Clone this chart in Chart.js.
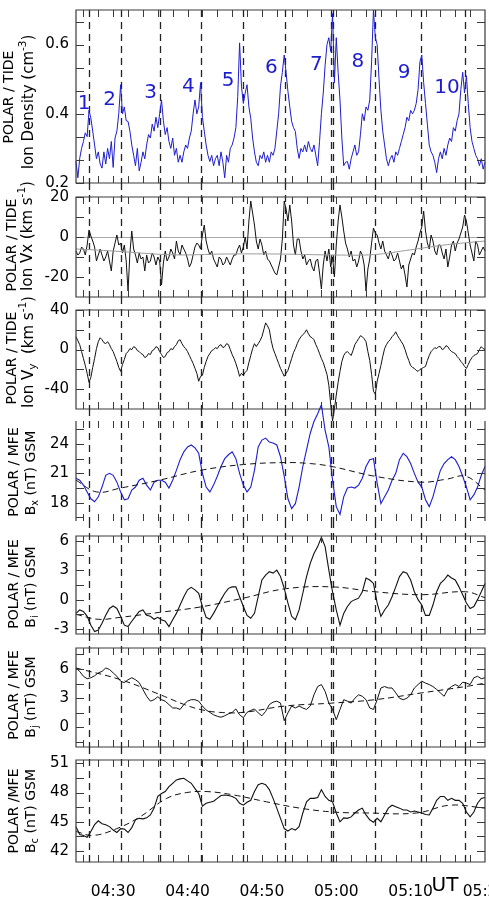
<!DOCTYPE html>
<html>
<head>
<meta charset="utf-8">
<script src="https://cdn.jsdelivr.net/npm/chart.js@4.4.0/dist/chart.umd.min.js"></script>
<style>
  html, body { margin: 0; padding: 0; background: #fff; }
  #wrap { position: relative; width: 489px; height: 902px; overflow: hidden; background: #fff; }
  #wrap canvas { position: absolute; left: 0; }
</style>
</head>
<body>
<div id="wrap"></div>
<script>
const FONT = "'DejaVu Sans', Verdana, sans-serif";
const BLUE = "#1d1dcf";
const INK = "#111";

// time axis: minutes after 04:00 UT
const T_START = 25;
const STEP_FINE = 0.25;
const STEP = 0.5;

const xTickVals = [30, 40, 50, 60, 70, 80];
const xTickLabels = ["04:30", "04:40", "04:50", "05:00", "05:10", "05:20"];
const xMinorTicks = [26, 28, 30, 32, 34, 36, 38, 40, 42, 44, 46, 48, 50, 52, 54, 56, 58, 60, 62, 64, 66, 68, 70, 72, 74, 76, 78];
const eventTimes = [26.75, 31.0, 36.25, 41.77, 47.46, 53.06, 59.3, 59.55, 65.17, 71.44, 77.27];

const eventLabels = ["1", "2", "3", "4", "5", "6", "7", "8", "9", "10"];
const eventLabelT = [26.08, 29.53, 35.05, 40.1, 45.44, 51.27, 57.32, 62.92, 69.11, 74.89];
const eventLabelV = [0.428, 0.441, 0.46, 0.479, 0.494, 0.534, 0.542, 0.55, 0.518, 0.474];

// ion density, every 15 s
const density = [
  0.262, 0.215, 0.271, 0.30,  0.32, 0.345, 0.334, 0.41,  0.387, 0.35, 0.31, 0.27,  0.29, 0.255, 0.243, 0.29,  0.255, 0.30, 0.27, 0.32,
  0.245, 0.33, 0.35, 0.40,  0.484, 0.40, 0.42, 0.38,  0.378, 0.35, 0.31, 0.28,  0.25, 0.30, 0.235, 0.26,  0.29, 0.27, 0.31, 0.34,
  0.33, 0.37, 0.35, 0.39,  0.36, 0.40, 0.44, 0.38,  0.34, 0.36, 0.32, 0.30,  0.33, 0.28, 0.30, 0.26,  0.28, 0.26, 0.29, 0.31,
  0.30, 0.33, 0.35, 0.40,  0.44, 0.40, 0.42, 0.49,  0.39, 0.35, 0.31, 0.28,  0.262, 0.28, 0.25, 0.27,  0.28, 0.25, 0.29, 0.26,
  0.215, 0.28, 0.26, 0.30,  0.31, 0.33, 0.36, 0.45,  0.605, 0.48, 0.43, 0.46,  0.484, 0.42, 0.387, 0.33,  0.29, 0.26, 0.25, 0.28,
  0.27, 0.29, 0.26, 0.28,  0.26, 0.29, 0.28, 0.30,  0.35, 0.40, 0.48, 0.52,  0.57, 0.52, 0.465, 0.42,  0.378, 0.36, 0.349, 0.30,
  0.271, 0.30, 0.29, 0.31,  0.29, 0.32, 0.30, 0.29,  0.31, 0.28, 0.25, 0.32,  0.40, 0.46, 0.54, 0.60,  0.62, 0.58, 0.69, 0.49,
  0.62, 0.52, 0.44, 0.33,  0.25, 0.26, 0.262, 0.24,  0.27, 0.29, 0.31, 0.28,  0.29, 0.34, 0.40, 0.38,  0.42, 0.41, 0.44, 0.55,
  0.70, 0.62, 0.60, 0.50,  0.41, 0.35, 0.31, 0.27,  0.25, 0.27, 0.28, 0.26,  0.29, 0.28, 0.30, 0.32,  0.34, 0.36, 0.39, 0.38,
  0.41, 0.40, 0.41, 0.43,  0.47, 0.55, 0.57, 0.49,  0.43, 0.37, 0.31, 0.29,  0.28, 0.26, 0.23, 0.27,  0.29, 0.27, 0.30, 0.28,
  0.31, 0.33, 0.32, 0.36,  0.35, 0.38, 0.40, 0.47,  0.52, 0.46, 0.51, 0.43,  0.36, 0.32, 0.30, 0.28,  0.27, 0.25, 0.27, 0.24,
  0.26
];

// ion Vx, every 15 s
const vx = [
  -7, -9, -8, -5,  -6, -9, -4, 3.5,  0.5, -2, -5, -12,  -9, -6, -9, -12,  -10, -7, -12, -17,
  -7, -3, 1, -4,  -3, -8, -4, -12,  -27, -8, 3, -6,  -9, -13, -8, -11,  -10, -17, -9, -13,
  -12, -8, -10, -14,  -10, -12, -24, -13,  -7, -12, -10, -6,  -8, -11, -2, -7,  -9, -4, -6, -8,
  -11, -15, -13, -9,  -5, -3, -4, -6,  1, 6, -2, -6,  -9, -7, -11, -13,  -15, -10, -11, -14,
  -13, -10, -12, -14,  -11, -9, -9, -6,  -4, -8, -5, 0,  -6, 8, 18, 12,  6, -2, -6, -1,
  -4, -9, -7, -11,  -12, -14, -16, -18,  -19, -15, -11, -1,  18, 14, 8, 16,  8, -4, -9, -1,
  -1, -7, -11, -9,  -14, -12, -11, -15,  -17, -12, -11, -18,  -26, -14, -7, -12,  -6, -15, -10, -20,
  -4, 8, 16, 10,  3, -3, -6, -10,  -7, -12, -11, -15,  -12, -7, -9, -14,  -27, -16, -11, -3,
  4.5, 2, 1, -3,  -6, -2, -7, -9,  -11, -7, -9, -12,  -11, -8, -12, -16,  -14, -19, -25, -14,
  -11, -8, -9, -5,  -2, 2, 5, 13,  3, -3, -6, 1,  -2, -7, -9, -4,  -4, -8, -11, -6,
  -15, -10, -4, -2,  -7, -3, -1, 2,  5, 11, 8, 2,  -4, -8, -12, -2,  -4, -9, -7, -5,
  -7
];
const vxTrendT = [25, 30, 38, 45, 52, 60, 65, 70, 75, 80];
const vxTrendV = [-6, -7, -8.9, -8.5, -8.5, -9, -8.8, -6.4, -3.8, -2];

// ion Vy, every 15 s
const vy = [
  13, 9, 5, -2,  -9, -16, -24, -33,  -28, -18, -9, 1,  8, 12, 10, 7,  6, 8, 5, 1,
  -2, -7, -12, -18,  -22, -15, -10, -4,  -2, 1, 0, 3,  2, -1, -2, -4,  -5, -8, -7, -4,
  -5, -1, 0, 3,  2, -2, -5, -8,  -7, -3, -2, 1,  0, 3, 5, 9,  10, 6, 3, 1,
  -2, -6, -10, -14,  -19, -24, -32, -27,  -26, -18, -12, -7,  -4, -1, 0, 2,  1, 4, 5, 2,
  3, 6, 5, 0,  -5, -9, -14, -20,  -27, -24, -26, -23,  -21, -13, -6, 1,  6, 3, 6, 9,
  13, 20, 27, 24,  20, 9, 1, -4,  -9, -14, -19, -23,  -27, -24, -21, -15,  -9, -3, 1, 6,
  10, 13, 15, 17,  20, 16, 13, 12,  10, 5, 1, -4,  -9, -13, -19, -25,  -36, -55, -72, -60,
  -46, -33, -22, -12,  -6, -3, -2, -4,  -6, -1, 5, 8,  11, 14, 13, 11,  8, -2, -11, -25,
  -42, -45, -32, -24,  -16, -7, 1, 5,  8, 10, 13, 15,  18, 14, 11, 8,  5, 0, -6, -11,
  -16, -18, -19, -21,  -22, -20, -19, -18,  -17, -11, -6, -2,  0, 2, 1, 3,  3, 0, 1, 4,
  3, 0, -2, -3,  -4, -7, -9, -12,  -14, -17, -19, -15,  -11, -8, -6, -5,  -4, 0, 3, 1,
  0
];

// MFE field components (nT), every 30 s
const bx = [
  20.5, 20.3, 19.8, 19.1, 18.4, 18.1, 18.6, 19.6, 20.8, 21.0,
  20.8, 20.1, 19.1, 18.3, 18.4, 19.3, 19.6, 20.3, 20.5, 19.8,
  19.3, 20.1, 20.3, 20.3, 20.1, 19.5, 20.3, 21.3, 22.4, 23.2,
  23.7, 23.9, 23.6, 23.05, 21.0, 19.6, 19.1, 19.8, 20.7, 21.7,
  22.5, 22.9, 23.2, 22.5, 21.0, 19.8, 19.1, 19.6, 21.3, 23.7,
  24.4, 24.6, 24.2, 24.1, 23.9, 22.7, 20.7, 18.4, 17.4, 17.9,
  19.6, 21.7, 23.4, 25.1, 26.3, 27.1, 28.0, 25.4, 23.7, 20.3,
  17.6, 16.8, 18.6, 19.5, 19.6, 19.5, 19.8, 20.5, 21.7, 22.4,
  22.5, 20.0, 17.9, 18.6, 19.3, 20.3, 21.0, 22.4, 23.05, 22.7,
  22.0, 21.0, 20.1, 19.6, 18.3, 17.6, 18.6, 20.0, 21.3, 22.0,
  22.4, 22.7, 22.4, 21.7, 20.7, 19.6, 18.3, 18.8, 19.6, 20.8,
  21.7
];
const bxTrendT = [25, 27.8, 31, 36.2, 41.7, 47.5, 53.1, 56.5, 59.4, 65.2, 71.5, 74.8, 77.4, 80];
const bxTrendV = [20.3, 19.1, 19.5, 20.3, 21.3, 21.9, 22.1, 22.0, 21.7, 20.7, 20.1, 20.4, 20.7, 19.3];

const bi = [
  -1.4, -1.05, -1.2, -1.7, -2.6, -3.25, -3.1, -2.4, -1.6, -0.9,
  -0.65, -0.9, -1.7, -2.6, -2.75, -2.2, -1.7, -1.2, -1.05, -1.6,
  -1.7, -2.0, -1.8, -2.05, -2.2, -2.75, -2.05, -1.4, -0.55, 0.3,
  1.0, 1.25, 1.0, 0.65, -0.7, -1.8, -2.0, -1.4, -0.7, 0,
  0.65, 1.15, 1.3, 1.3, 0.3, -0.7, -1.6, -1.9, -1.4, 0.3,
  2.0, 2.5, 2.85, 2.7, 3.0, 2.35, 1.15, -0.35, -1.7, -2.05,
  -1.05, 0.65, 2.35, 3.7, 4.7, 5.4, 6.35, 5.4, 3.0, 0.8,
  -1.05, -2.6, -1.4, -0.7, -0.2, 0, 0.15, 0.8, 2.2, 2.0,
  1.65, -0.35, -1.7, -1.05, -0.55, 0.3, 1.3, 2.35, 2.85, 2.7,
  2.0, 0.8, 0, -0.55, -1.6, -1.6, -0.55, 0.8, 1.65, 2.0,
  2.5, 2.2, 2.0, 1.3, 0.5, -0.35, -0.9, -0.7, 0, 0.8,
  1.65
];
const biTrendT = [25, 28, 31, 36.2, 41.7, 47.5, 53.1, 59.4, 65.2, 71.5, 77.4, 80];
const biTrendV = [-1.5, -2.0, -1.8, -1.3, -0.75, 0.15, 1.1, 1.3, 0.8, 0.5, 0.8, 0.2];

const bj = [
  6.1, 5.75, 5.25, 5.0, 5.1, 5.3, 5.6, 5.75, 6.1, 5.95,
  5.6, 5.25, 4.75, 4.6, 4.9, 5.1, 4.9, 4.6, 3.9, 3.2,
  2.7, 2.85, 3.15, 2.85, 2.7, 2.35, 2.0, 2.0, 1.85, 2.35,
  2.7, 2.85, 2.85, 2.7, 2.2, 1.8, 1.55, 1.3, 1.15, 1.05,
  1.2, 1.4, 1.55, 1.9, 1.3, 1.0, 1.55, 1.75, 1.9, 1.5,
  1.2, 1.65, 2.35, 2.6, 2.7, 2.5, 0.7, 1.5, 2.2, 2.0,
  2.2, 2.0, 1.85, 2.2, 3.35, 4.2, 4.4, 3.7, 2.5, 1.85,
  0.8, 1.85, 2.85, 2.7, 2.5, 3.0, 3.35, 3.2, 2.85, 2.0,
  1.85, 2.85, 4.05, 4.2, 4.05, 4.05, 3.55, 3.0, 2.85, 3.0,
  3.35, 4.05, 4.4, 4.75, 4.55, 4.4, 4.2, 3.9, 3.55, 3.2,
  3.9, 4.2, 4.4, 4.2, 4.65, 4.55, 4.4, 5.1, 5.25, 5.0,
  5.1
];
const bjTrendT = [25, 31, 36.2, 39.4, 41.7, 44.3, 47.5, 53.1, 59.4, 65.2, 71.5, 77.4, 80];
const bjTrendV = [6.1, 4.9, 3.4, 2.4, 1.85, 1.55, 1.55, 2.2, 2.5, 2.85, 3.55, 4.2, 4.55];

const bc = [
  44.5, 43.7, 43.6, 43.4, 44.0, 44.7, 45.1, 44.8, 44.7, 44.5,
  44.15, 43.9, 44.3, 44.25, 43.9, 44.4, 45.2, 45.35, 45.3, 45.4,
  45.7, 46.4, 47.6, 47.9, 48.1, 48.6, 48.95, 49.3, 49.4, 49.46,
  49.2, 48.95, 48.4, 47.9, 46.6, 46.9, 47.0, 47.1, 47.4, 47.7,
  47.75, 47.7, 47.6, 47.4, 46.9, 46.7, 47.0, 47.2, 48.1, 48.8,
  48.95, 48.8, 48.3, 47.4, 46.4, 45.35, 44.3, 44.05, 44.3, 44.15,
  44.5, 45.9, 47.05, 47.4, 47.4, 47.5, 48.3, 47.6, 47.2, 47.05,
  45.9, 45.0, 45.4, 45.35, 45.5, 45.9, 46.2, 46.4, 45.7, 45.2,
  44.95, 45.35, 45.0, 45.7, 46.4, 46.7, 46.55, 46.4, 46.2, 46.2,
  46.0, 46.1, 46.0, 45.9, 45.75, 45.7, 46.4, 47.2, 47.6, 47.6,
  47.2, 47.4, 47.2, 47.2, 46.9, 46.0, 45.5, 46.0, 46.9, 47.4,
  47.5
];
const bcTrendT = [25, 27.3, 30.5, 33.6, 37.2, 39.9, 42.6, 46.2, 50.6, 55.1, 59.6, 64.1, 70.8, 75.3, 80];
const bcTrendV = [44.0, 43.6, 44.3, 45.5, 47.4, 48.0, 48.1, 47.75, 47.05, 46.4, 46.0, 45.9, 45.9, 46.7, 46.4];

function uniformPoints(vals, step) {
  return vals.map((v, i) => ({ x: T_START + i * step, y: v }));
}
function pairedPoints(ts, vs) {
  return ts.map((t, i) => ({ x: t, y: vs[i] }));
}

const lineSet = (pts, color, width) => ({ data: pts, borderColor: color, borderWidth: width, pointRadius: 0, tension: 0, clip: false, fill: false });
const trendSet = (pts, color, dash) => ({ data: pts, borderColor: color, borderWidth: 1, borderDash: dash, pointRadius: 0, tension: 0.4, clip: false, fill: false });

const panels = [
  {
    top: 10, bottom: 183, min: 0.2, max: 0.7,
    major: [0.2, 0.4, 0.6], minor: [0.2667, 0.3333, 0.4667, 0.5333, 0.6667],
    fmt: (v) => v.toFixed(1),
    t1: "POLAR / TIDE", t2: [["Ion Density (cm", ""], ["-3", "sup"], [")", ""]],
    t1pos: [9.5, 97], t2pos: [29, 102], t2size: 15,
    datasets: [lineSet(uniformPoints(density, STEP_FINE), BLUE, 1)],
    labels: true,
  },
  {
    top: 197, bottom: 297, min: -30, max: 20,
    major: [-20, 0, 20], minor: [-10, 10],
    fmt: (v) => String(v),
    t1: "POLAR / TIDE", t2: [["Ion Vx (km s", ""], ["-1", "sup"], [")", ""]],
    t1pos: [12.5, 245], t2pos: [28, 236], t2size: 15,
    zeroLine: true,
    datasets: [
      trendSet(pairedPoints(vxTrendT, vxTrendV), "#9a9a9a", []),
      lineSet(uniformPoints(vx, STEP_FINE), INK, 1),
    ],
  },
  {
    top: 310, bottom: 409, min: -60, max: 40,
    major: [-40, 0, 40], minor: [-20, 20],
    fmt: (v) => String(v),
    t1: "POLAR / TIDE", t2: [["Ion V", ""], ["y", "sub"], ["  (km s", ""], ["-1", "sup"], [")", ""]],
    t1pos: [12, 358], t2pos: [29, 352], t2size: 15,
    datasets: [lineSet(uniformPoints(vy, STEP_FINE), INK, 1)],
  },
  {
    top: 421, bottom: 521, min: 16.13, max: 26.35,
    major: [18, 21, 24], minor: [16.5, 19.5, 22.5, 25.5],
    fmt: (v) => String(v),
    t1: "POLAR / MFE", t2: [["B", ""], ["x", "sub"], [" (nT) GSM", ""]],
    t1pos: [14, 472], t2pos: [31, 473], t2size: 14,
    noHoriz: true,
    datasets: [
      trendSet(pairedPoints(bxTrendT, bxTrendV), INK, [6, 4]),
      lineSet(uniformPoints(bx, STEP), BLUE, 1.1),
    ],
  },
  {
    top: 536, bottom: 634, min: -3.5, max: 6.48,
    major: [-3, 0, 3, 6], minor: [-1.5, 1.5, 4.5],
    fmt: (v) => String(v),
    t1: "POLAR / MFE", t2: [["B", ""], ["i", "sub"], [" (nT) GSM", ""]],
    t1pos: [14, 584], t2pos: [31, 587], t2size: 14,
    datasets: [
      trendSet(pairedPoints(biTrendT, biTrendV), INK, [6, 4]),
      lineSet(uniformPoints(bi, STEP), INK, 1.1),
    ],
  },
  {
    top: 648, bottom: 747, min: -2, max: 8.15,
    major: [0, 3, 6], minor: [-1.5, 1.5, 4.5, 7.5],
    fmt: (v) => String(v),
    t1: "POLAR / MFE", t2: [["B", ""], ["j", "sub"], [" (nT) GSM", ""]],
    t1pos: [14, 695], t2pos: [31, 697], t2size: 14,
    datasets: [
      trendSet(pairedPoints(bjTrendT, bjTrendV), INK, [6, 4]),
      lineSet(uniformPoints(bj, STEP), INK, 1),
    ],
  },
  {
    top: 760, bottom: 862, min: 40.87, max: 51.34,
    major: [42, 45, 48, 51], minor: [43.5, 46.5, 49.5],
    fmt: (v) => String(v),
    t1: "POLAR /MFE", t2: [["B", ""], ["c", "sub"], [" (nT) GSM", ""]],
    t1pos: [14, 811], t2pos: [31, 811], t2size: 14,
    datasets: [
      trendSet(pairedPoints(bcTrendT, bcTrendV), INK, [6, 4]),
      lineSet(uniformPoints(bc, STEP), INK, 1.1),
    ],
  },
];

function drawRich(ctx, segs, cx, cy, size) {
  ctx.save();
  ctx.translate(cx, cy);
  ctx.rotate(-Math.PI / 2);
  ctx.textBaseline = "middle";
  ctx.textAlign = "left";
  let total = 0;
  segs.forEach(([txt, mode]) => {
    ctx.font = (mode ? size * 0.7 : size) + "px " + FONT;
    total += ctx.measureText(txt).width;
  });
  let x = -total / 2;
  segs.forEach(([txt, mode]) => {
    const s = mode ? size * 0.7 : size;
    ctx.font = s + "px " + FONT;
    const dy = mode === "sup" ? -size * 0.38 : mode === "sub" ? size * 0.3 : 0;
    ctx.fillText(txt, x, dy);
    x += ctx.measureText(txt).width;
  });
  ctx.restore();
}

function decor(p, idx, canvasTop) {
  return {
    id: "decor" + idx,
    beforeDatasetsDraw(chart) {
      const { ctx, chartArea: a, scales: { x, y } } = chart;
      ctx.save();
      if (p.zeroLine) {
        const zy = Math.round(y.getPixelForValue(0)) + 0.5;
        ctx.strokeStyle = "#a8a8a8";
        ctx.lineWidth = 1;
        ctx.beginPath();
        ctx.moveTo(a.left, zy);
        ctx.lineTo(a.right, zy);
        ctx.stroke();
      }
      const yTop = idx === 0 ? a.top : a.top - (p.top - panels[idx - 1].bottom);
      ctx.strokeStyle = "#222";
      ctx.lineWidth = 1.3;
      ctx.setLineDash([7, 5]);
      eventTimes.forEach((t) => {
        const px = Math.round(x.getPixelForValue(t)) + 0.5;
        ctx.beginPath();
        ctx.moveTo(px, yTop);
        ctx.lineTo(px, a.bottom);
        ctx.stroke();
      });
      ctx.restore();
    },
    afterDatasetsDraw(chart) {
      const { ctx, chartArea: a, scales: { x, y } } = chart;
      ctx.save();
      ctx.strokeStyle = "#3a3a3a";
      ctx.lineWidth = 1.2;
      ctx.setLineDash([]);
      ctx.beginPath();
      if (p.noHoriz) {
        ctx.moveTo(a.left, a.top); ctx.lineTo(a.left, a.bottom);
        ctx.moveTo(a.right, a.top); ctx.lineTo(a.right, a.bottom);
      } else {
        ctx.rect(a.left, a.top, a.right - a.left, a.bottom - a.top);
      }
      ctx.stroke();

      ctx.lineWidth = 1;
      ctx.beginPath();
      xMinorTicks.forEach((t) => {
        const px = Math.round(x.getPixelForValue(t)) + 0.5;
        ctx.moveTo(px, a.top); ctx.lineTo(px, a.top + 7);
        ctx.moveTo(px, a.bottom); ctx.lineTo(px, a.bottom - 7);
      });
      p.major.concat(p.minor).forEach((v) => {
        const py = Math.round(y.getPixelForValue(v)) + 0.5;
        ctx.moveTo(a.left, py); ctx.lineTo(a.left + 8, py);
        ctx.moveTo(a.right, py); ctx.lineTo(a.right - 8, py);
      });
      ctx.stroke();

      ctx.fillStyle = "#000";
      ctx.textAlign = "center";
      ctx.textBaseline = "middle";
      ctx.font = "14px " + FONT;
      ctx.save();
      ctx.translate(p.t1pos[0], p.t1pos[1] - canvasTop);
      ctx.rotate(-Math.PI / 2);
      ctx.fillText(p.t1, 0, 0);
      ctx.restore();
      drawRich(ctx, p.t2, p.t2pos[0], p.t2pos[1] - canvasTop, p.t2size);

      if (p.labels) {
        ctx.fillStyle = BLUE;
        ctx.font = "20px " + FONT;
        eventLabels.forEach((lab, i) => {
          ctx.fillText(lab, x.getPixelForValue(eventLabelT[i]), y.getPixelForValue(eventLabelV[i]));
        });
      }
      if (idx === panels.length - 1) {
        ctx.fillStyle = "#000";
        ctx.font = "20px " + FONT;
        ctx.fillText("UT", 445, a.bottom + 24);
      }
      ctx.restore();
    },
  };
}

const wrap = document.getElementById("wrap");

panels.forEach((p, idx) => {
  const isLast = idx === panels.length - 1;
  const padTop = 30;
  const canvasTop = p.top - padTop;
  const canvasBottom = isLast ? 902 : p.bottom + 30;
  const h = canvasBottom - canvasTop;
  const cv = document.createElement("canvas");
  cv.width = 489;
  cv.height = h;
  cv.style.top = canvasTop + "px";
  cv.style.width = "489px";
  cv.style.height = h + "px";
  wrap.appendChild(cv);

  new Chart(cv, {
    type: "line",
    data: { datasets: p.datasets },
    options: {
      responsive: false,
      animation: false,
      devicePixelRatio: 1,
      events: [],
      layout: { padding: { top: padTop, bottom: isLast ? 0 : 30, left: 0, right: 4 } },
      plugins: { legend: { display: false }, tooltip: { enabled: false } },
      scales: {
        x: {
          type: "linear",
          min: 25,
          max: 80,
          display: isLast,
          grid: { display: false, drawTicks: false },
          border: { display: false },
          afterBuildTicks: (s) => { s.ticks = xTickVals.map((v) => ({ value: v })); },
          afterFit: (s) => {
            if (isLast) s.height = 40;
            s.paddingLeft = 0;
            s.paddingRight = 0;
          },
          ticks: {
            callback: (v) => xTickLabels[xTickVals.indexOf(v)] || "",
            font: { family: FONT, size: 15.5 },
            color: "#000",
            padding: 21,
            maxRotation: 0,
            autoSkip: false,
          },
        },
        y: {
          min: p.min,
          max: p.max,
          grid: { display: false, drawTicks: false },
          border: { display: false },
          afterBuildTicks: (s) => { s.ticks = p.major.map((v) => ({ value: v })); },
          afterFit: (s) => {
            s.width = 76;
            s.paddingTop = 0;
            s.paddingBottom = 0;
          },
          ticks: {
            callback: (v) => p.fmt(v),
            font: { family: FONT, size: 15 },
            color: "#000",
            padding: 7,
            autoSkip: false,
          },
        },
      },
    },
    plugins: [decor(p, idx, canvasTop)],
  });
});
</script>
</body>
</html>
